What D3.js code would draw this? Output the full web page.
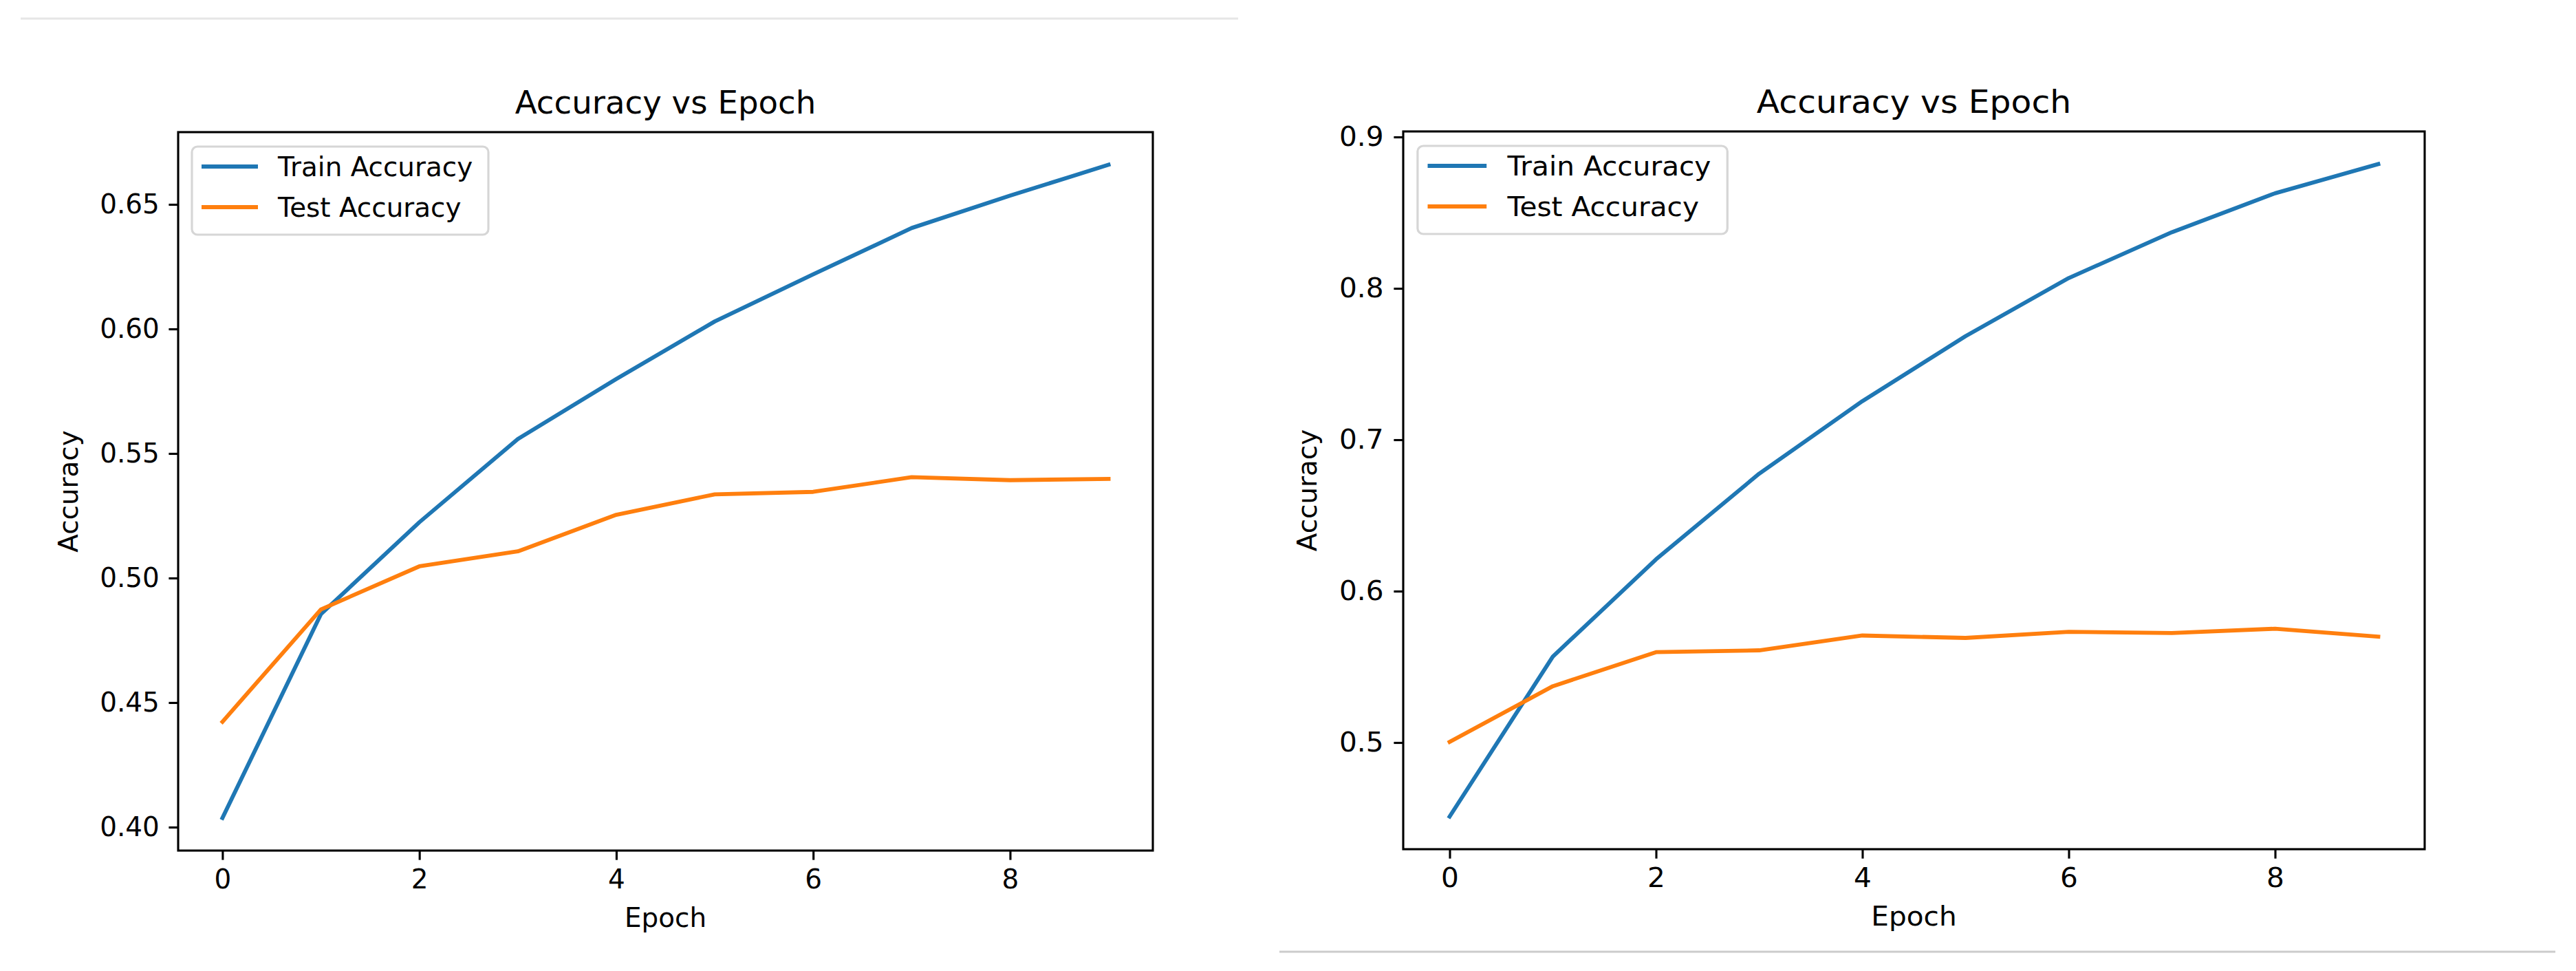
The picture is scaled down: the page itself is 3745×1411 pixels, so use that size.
<!DOCTYPE html>
<html>
<head>
<meta charset="utf-8">
<script src="https://cdn.jsdelivr.net/npm/d3@7"></script>
<style>
  body { margin: 0; background: #fff; }
  svg { display: block; }
  text { font-family: "DejaVu Sans", sans-serif; fill: #000; }
</style>
</head>
<body>
<svg width="3745" height="1411"></svg>
<script>
// data
const epochs = [0, 1, 2, 3, 4, 5, 6, 7, 8, 9];
const xTicks = [0, 2, 4, 6, 8];

const trainAccLeft = [0.4037, 0.4855, 0.5224, 0.5558, 0.5799, 0.6030, 0.6219, 0.6405, 0.6535, 0.6659];
const testAccLeft  = [0.4423, 0.4874, 0.5047, 0.5107, 0.5254, 0.5336, 0.5346, 0.5405, 0.5393, 0.5398];
const yTicksLeft = [0.40, 0.45, 0.50, 0.55, 0.60, 0.65];

const trainAccRight = [0.4511, 0.5568, 0.6210, 0.6776, 0.7255, 0.7684, 0.8068, 0.8371, 0.8628, 0.8821];
const testAccRight  = [0.5004, 0.5372, 0.5597, 0.5609, 0.5707, 0.5691, 0.5731, 0.5723, 0.5752, 0.5699];
const yTicksRight = [0.5, 0.6, 0.7, 0.8, 0.9];

const seriesNames = ["Train Accuracy", "Test Accuracy"];
const colors = ["#1f77b4", "#ff7f0e"];

const svg = d3.select("svg");
const pt = 3.89; // px per point

// faint border lines from the screenshot
svg.append("line").attr("x1", 30).attr("x2", 1800).attr("y1", 27).attr("y2", 27)
    .attr("stroke", "#e6e6e6").attr("stroke-width", 3);
svg.append("line").attr("x1", 1860).attr("x2", 3715).attr("y1", 1383).attr("y2", 1383)
    .attr("stroke", "#cccccc").attr("stroke-width", 3);

function drawPanel(box, train, test, yTicks, fmt) {
    const g = svg.append("g");
    const sx = box.sx; // the right picture is stretched a little sideways

    const x = d3.scaleLinear()
        .domain([-0.45, 9.45])
        .range([box.left, box.right]);

    const all = train.concat(test);
    const lo = d3.min(all), hi = d3.max(all), m = (hi - lo) * 0.05;
    const y = d3.scaleLinear()
        .domain([lo - m, hi + m])
        .range([box.bottom, box.top]);

    const line = d3.line()
        .x(function (d, i) { return x(epochs[i]); })
        .y(function (d) { return y(d); });

    [train, test].forEach(function (s, i) {
        g.append("path")
            .datum(s)
            .attr("d", line)
            .attr("fill", "none")
            .attr("stroke", colors[i])
            .attr("stroke-width", 1.5 * pt)
            .attr("stroke-linejoin", "round")
            .attr("stroke-linecap", "square");
    });

    // axes
    const xAxis = g.append("g")
        .attr("transform", "translate(0," + box.bottom + ")")
        .call(d3.axisBottom(x).tickValues(xTicks).tickSize(3.5 * pt).tickPadding(3.5 * pt).tickFormat(d3.format("d")));
    const yAxis = g.append("g")
        .attr("transform", "translate(" + box.left + ",0)")
        .call(d3.axisLeft(y).tickValues(yTicks).tickSize(3.5 * pt).tickPadding(3.5 * pt).tickFormat(d3.format(fmt)));

    [xAxis, yAxis].forEach(function (a) {
        a.select(".domain").remove();
        a.selectAll(".tick line").attr("stroke", "#000").attr("stroke-width", 0.8 * pt);
        a.selectAll(".tick text")
            .attr("font-size", 10 * pt)
            .attr("font-family", "DejaVu Sans")
            .attr("fill", "#000")
            .attr("transform", "scale(" + sx + ",1)");
    });

    // spines
    g.append("rect")
        .attr("x", box.left).attr("y", box.top)
        .attr("width", box.right - box.left).attr("height", box.bottom - box.top)
        .attr("fill", "none").attr("stroke", "#000").attr("stroke-width", 0.8 * pt);

    // labels
    const cx = (box.left + box.right) / 2;
    g.append("text")
        .attr("transform", "translate(" + cx + "," + (box.top - 27) + ") scale(" + sx + ",1)")
        .attr("text-anchor", "middle").attr("font-size", 12 * pt)
        .text("Accuracy vs Epoch");

    g.append("text")
        .attr("transform", "translate(" + cx + "," + (box.bottom + 111) + ") scale(" + sx + ",1)")
        .attr("text-anchor", "middle").attr("font-size", 10 * pt)
        .text("Epoch");

    g.append("text")
        .attr("transform", "translate(" + box.ylab + "," + (box.top + box.bottom) / 2 + ") rotate(-90)")
        .attr("text-anchor", "middle").attr("font-size", 10 * pt)
        .text("Accuracy");

    // legend
    const lg = g.append("g")
        .attr("transform", "translate(" + (box.left + 20 * sx) + "," + (box.top + 21) + ") scale(" + sx + ",1)");
    lg.append("rect")
        .attr("width", 431).attr("height", 128)
        .attr("rx", 8).attr("ry", 8)
        .attr("fill", "#fff").attr("fill-opacity", 0.8)
        .attr("stroke", "#d6d6d6").attr("stroke-width", 0.8 * pt);

    const item = lg.selectAll(".item")
        .data(seriesNames)
        .enter().append("g")
        .attr("class", "item")
        .attr("transform", function (d, i) { return "translate(0," + (29 + i * 59) + ")"; });

    item.append("line")
        .attr("x1", 14).attr("x2", 96)
        .attr("stroke", function (d, i) { return colors[i]; })
        .attr("stroke-width", 1.5 * pt);

    item.append("text")
        .attr("x", 125).attr("dy", "0.36em")
        .attr("font-size", 10 * pt)
        .text(function (d) { return d; });
}

drawPanel({ left: 259, right: 1676, top: 192, bottom: 1236, ylab: 113, sx: 1 },
    trainAccLeft, testAccLeft, yTicksLeft, ".2f");
drawPanel({ left: 2040, right: 3525, top: 191, bottom: 1234, ylab: 1914, sx: 1.045 },
    trainAccRight, testAccRight, yTicksRight, ".1f");
</script>
</body>
</html>
